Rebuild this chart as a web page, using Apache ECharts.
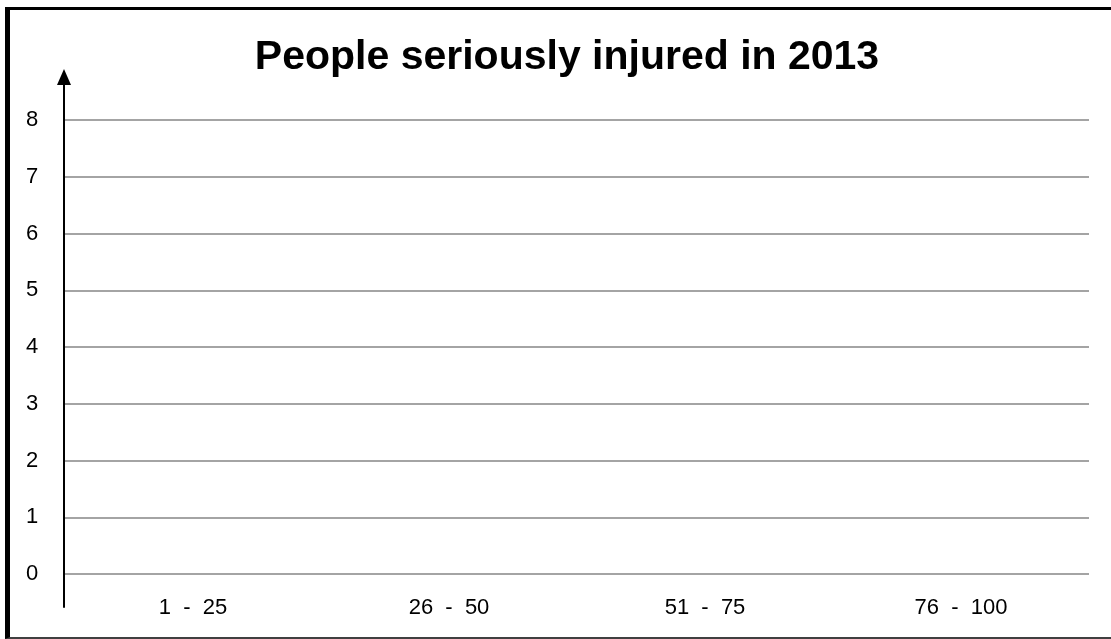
<!DOCTYPE html>
<html>
<head>
<meta charset="utf-8">
<script src="https://cdn.jsdelivr.net/npm/echarts@6/dist/echarts.min.js"></script>
<style>
html,body{margin:0;padding:0;background:#fff;}
#wrap{position:relative;width:1111px;height:639px;overflow:hidden;}
#chart{position:absolute;left:0;top:0;width:1111px;height:639px;}
#frame{position:absolute;left:5px;top:7px;width:1200px;height:627px;border-top:3px solid #000;border-left:5px solid #000;border-bottom:2px solid #404040;pointer-events:none;}
</style>
</head>
<body>
<div id="wrap"><div id="chart"></div><div id="frame"></div></div>
<script>
const titleText = 'People seriously injured in 2013';
const categories = ['1  -  25', '26  -  50', '51  -  75', '76  -  100'];
const injured = [null, null, null, null];
const yMin = 0, yMax = 8, yStep = 1;

const chart = echarts.init(document.getElementById('chart'), null, {renderer: 'canvas'});
const fontFam = 'Liberation Sans, Arial, sans-serif';
chart.setOption({
  animation: false,
  backgroundColor: '#fff',
  title: {
    text: titleText,
    left: 562, top: 32, textAlign: 'center',
    textStyle: {fontFamily: fontFam, fontWeight: 'bold', fontSize: 41, color: '#000'}
  },
  grid: [
    {left: 65, right: 22, top: 120, bottom: 65},
    {left: 64, width: 10, top: 77, bottom: 32}
  ],
  xAxis: [
    {type: 'category', gridIndex: 0, data: categories,
     axisLine: {show: false}, axisTick: {show: false},
     axisLabel: {margin: 23, fontFamily: fontFam, fontSize: 22, color: '#000'}},
    {type: 'value', gridIndex: 1, show: false}
  ],
  yAxis: [
    {type: 'value', gridIndex: 0, min: yMin, max: yMax, interval: yStep,
     axisLine: {show: false}, axisTick: {show: false},
     axisLabel: {margin: 33, fontFamily: fontFam, fontSize: 22, color: '#000', align: 'center'},
     splitLine: {show: true, lineStyle: {color: '#868686', width: 1.5}}},
    {type: 'value', gridIndex: 1, min: 0, max: 1,
     axisLine: {show: true, onZero: false, symbol: ['none', 'triangle'], symbolSize: [14, 16],
                lineStyle: {color: '#000', width: 2}},
     axisTick: {show: false}, axisLabel: {show: false}, splitLine: {show: false}}
  ],
  series: [
    {type: 'bar', name: 'People seriously injured', xAxisIndex: 0, yAxisIndex: 0, data: injured}
  ]
});
</script>
</body>
</html>
